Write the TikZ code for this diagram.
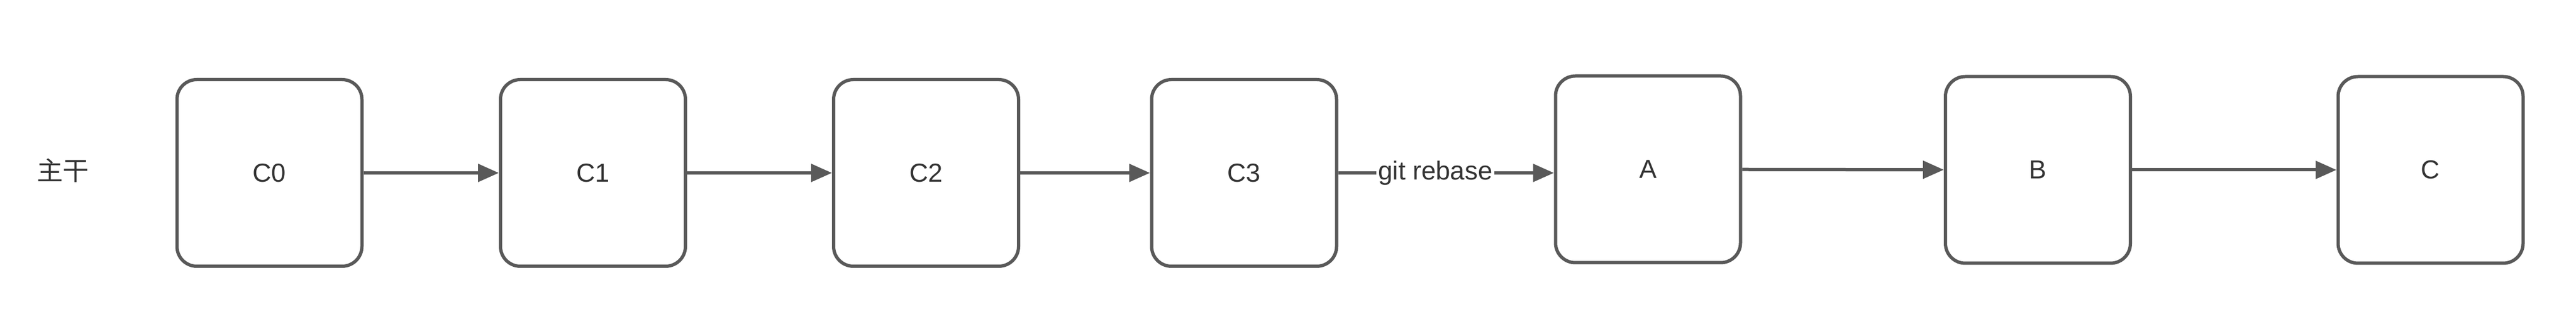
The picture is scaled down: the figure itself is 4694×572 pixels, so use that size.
\documentclass[tikz,border=0pt]{standalone}
\usepackage{fontspec}
\setmainfont{Liberation Sans}
\newfontfamily\cjk{Noto Sans CJK SC}
\usetikzlibrary{arrows.meta}
\definecolor{linegray}{HTML}{595959}
\definecolor{textgray}{HTML}{333333}
\tikzset{
  commit/.style={draw=linegray, line width=0.6mm, rounded corners=3.6mm,
    minimum width=33.7mm, minimum height=34mm, fill=white, text=textgray,
    font=\fontsize{13.5}{16}\selectfont, inner sep=0pt},
  link/.style={draw=linegray, line width=0.6mm,
    -{Triangle[length=3.8mm,width=3.2mm]}},
  lbl/.style={text=textgray, font=\fontsize{13.5}{16}\selectfont},
}
\begin{document}
\begin{tikzpicture}[x=0.1mm, y=-0.1mm]
\useasboundingbox[fill=white] (0,0) rectangle (4694,572);
\node[lbl, font=\cjk\fontsize{13.5}{16}\selectfont] (trunk) at (115,311) {主干};
\node[commit] (c0) at (491,315) {C0};
\node[commit] (c1) at (1080.5,315) {C1};
\node[commit] (c2) at (1687.5,315) {C2};
\node[commit] (c3) at (2267,315) {C3};
\node[commit] (a) at (3003,308.5) {A};
\node[commit] (b) at (3713.5,309.5) {B};
\node[commit] (c) at (4429,309.5) {C};
\draw[link] (c0) -- (c1);
\draw[link] (c1) -- (c2);
\draw[link] (c2) -- (c3);
\draw[link] (c3) -- (c3 -| a.west) node[lbl, pos=0.45, fill=white, inner sep=1pt] (rb) {git rebase};
\draw[link] (a) -- (b);
\draw[link] (b) -- (c);
\end{tikzpicture}
\end{document}
